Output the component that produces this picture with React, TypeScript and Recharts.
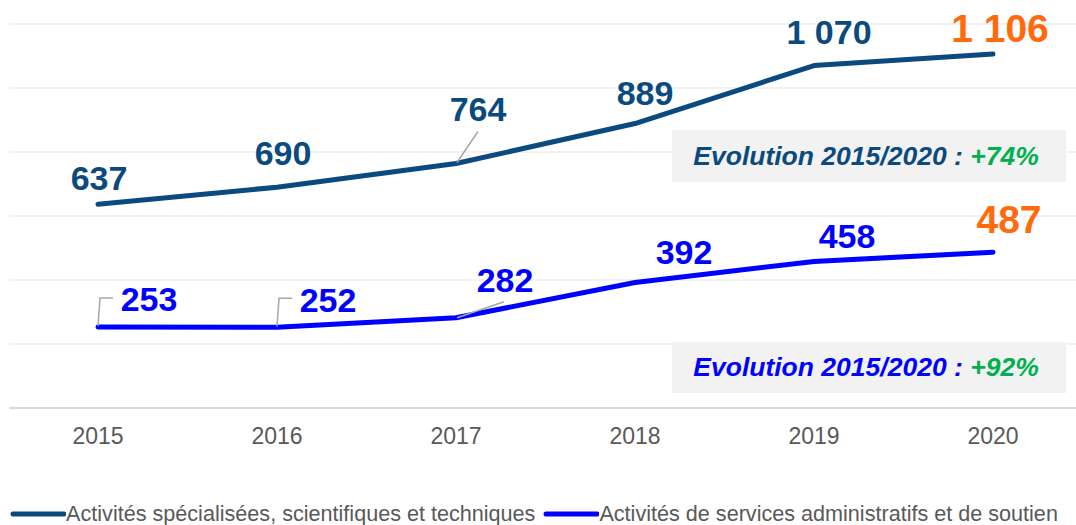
import React from 'react';
import { LineChart, Line, XAxis, YAxis, CartesianGrid, Legend, LabelList } from 'recharts';

// Données
const years = ['2015', '2016', '2017', '2018', '2019', '2020'];
const specialisees = [637, 690, 764, 889, 1070, 1106];
const administratifs = [253, 252, 282, 392, 458, 487];
const yTicks = [0, 200, 400, 600, 800, 1000, 1200];

const NAME_SPEC = 'Activités spécialisées, scientifiques et techniques';
const NAME_ADMIN = 'Activités de services administratifs et de soutien';
const EVOL_SPEC = '+74%';
const EVOL_ADMIN = '+92%';

const DARK = '#0B4A7E';
const BLUE = '#0000FF';
const ORANGE = '#FF6A0D';
const GREEN = '#00B050';
const GREY = '#595959';
const FONT = 'Arial, "Liberation Sans", sans-serif';

const chartData = years.map((year, i) => ({
  year,
  spec: specialisees[i],
  admin: administratifs[i],
}));

const legendItems = [
  { name: NAME_SPEC, color: DARK },
  { name: NAME_ADMIN, color: BLUE },
];

// placement des étiquettes (décalage par rapport au point)
const specOffsets = [[1, -14], [6, -22], [22, -43], [10, -19], [15, -22], [7, -12]];
const adminOffsets = [[51, -16], [51, -15], [49, -26], [49, -19], [33, -13], [16, -19]];
const specLeaders: Record<number, number[][]> = { 2: [[1, -1], [22, -32]] };
const adminLeaders: Record<number, number[][]> = {
  0: [[0, -1], [2, -29], [15, -29]],
  1: [[0, -1], [2, -29], [15, -29]],
  2: [[1, 0], [48, -16]],
};

const fmt = (v: number) => String(v).replace(/\B(?=(\d{3})+(?!\d))/g, ' ');

const makeLabel = (color: string, offsets: number[][], leaders: Record<number, number[][]>) => (props: any) => {
  const x = props.x ?? props.viewBox?.x;
  const y = props.y ?? props.viewBox?.y;
  const i = props.index;
  const last = i === years.length - 1;
  const [dx, dy] = offsets[i] || [0, -15];
  const lead = leaders[i];
  return (
    <g key={`lbl-${color}-${i}`}>
      {lead && (
        <polyline
          points={lead.map(([px, py]) => `${x + px},${y + py}`).join(' ')}
          fill="none"
          stroke="#A6A6A6"
          strokeWidth={1.5}
        />
      )}
      <text
        x={x + dx}
        y={y + dy}
        textAnchor="middle"
        fill={last ? ORANGE : color}
        fontSize={last ? 39 : 34}
        fontWeight="bold"
        fontFamily={FONT}
      >
        {fmt(props.value)}
      </text>
    </g>
  );
};

const renderLegend = () => (
  <div style={{ display: 'flex', justifyContent: 'center', alignItems: 'center', height: 24, fontSize: 21.6, color: GREY, fontFamily: FONT, whiteSpace: 'nowrap' }}>
    {legendItems.map((p) => (
      <div key={p.name} style={{ display: 'flex', alignItems: 'center', marginRight: 8 }}>
        <svg width={56} height={8} style={{ marginRight: 0 }}>
          <line x1={3} y1={4} x2={54} y2={4} stroke={p.color} strokeWidth={5} strokeLinecap="round" />
        </svg>
        <span>{p.name}</span>
      </div>
    ))}
  </div>
);

const boxStyle: React.CSSProperties = {
  position: 'absolute',
  left: 672,
  width: 394,
  height: 52,
  boxSizing: 'border-box',
  paddingRight: 6,
  background: '#F2F2F2',
  display: 'flex',
  alignItems: 'center',
  justifyContent: 'center',
  fontFamily: FONT,
  fontSize: 26.5,
  fontWeight: 'bold',
  fontStyle: 'italic',
  whiteSpace: 'pre',
};

export default function App() {
  return (
    <div style={{ position: 'relative', width: 1076, height: 525, background: '#fff', overflow: 'hidden' }}>
      <style>{'html,body{margin:0;padding:0;overflow:hidden}'}</style>
      <LineChart width={1076} height={525} data={chartData} margin={{ top: 24, right: 0, left: 9, bottom: 43 }}>
        <CartesianGrid vertical={false} stroke="#EEEEEE" strokeWidth={1.5} />
        <XAxis
          dataKey="year"
          padding={{ left: 89, right: 83 }}
          tickLine={false}
          axisLine={{ stroke: '#D9D9D9', strokeWidth: 2 }}
          tick={{ fill: GREY, fontSize: 23, fontFamily: FONT }}
          tickMargin={14}
          height={50}
        />
        <YAxis hide domain={[0, 1200]} ticks={yTicks} />
        <Legend
          verticalAlign="bottom"
          content={renderLegend}
          wrapperStyle={{ top: 502, bottom: 'auto', left: 0, width: 1076 }}
        />
        <Line
          dataKey="spec"
          name={NAME_SPEC}
          stroke={DARK}
          strokeWidth={5}
          strokeLinecap="round"
          strokeLinejoin="round"
          dot={false}
          type="linear"
          isAnimationActive={false}
        >
          <LabelList dataKey="spec" content={makeLabel(DARK, specOffsets, specLeaders)} />
        </Line>
        <Line
          dataKey="admin"
          name={NAME_ADMIN}
          stroke={BLUE}
          strokeWidth={5}
          strokeLinecap="round"
          strokeLinejoin="round"
          dot={false}
          type="linear"
          isAnimationActive={false}
        >
          <LabelList dataKey="admin" content={makeLabel(BLUE, adminOffsets, adminLeaders)} />
        </Line>
      </LineChart>
      <div style={{ ...boxStyle, top: 130, color: DARK }}>
        {'Evolution 2015/2020 : '}<span style={{ color: GREEN }}>{EVOL_SPEC}</span>
      </div>
      <div style={{ ...boxStyle, top: 342, height: 51, color: BLUE }}>
        {'Evolution 2015/2020 : '}<span style={{ color: GREEN }}>{EVOL_ADMIN}</span>
      </div>
    </div>
  );
}
